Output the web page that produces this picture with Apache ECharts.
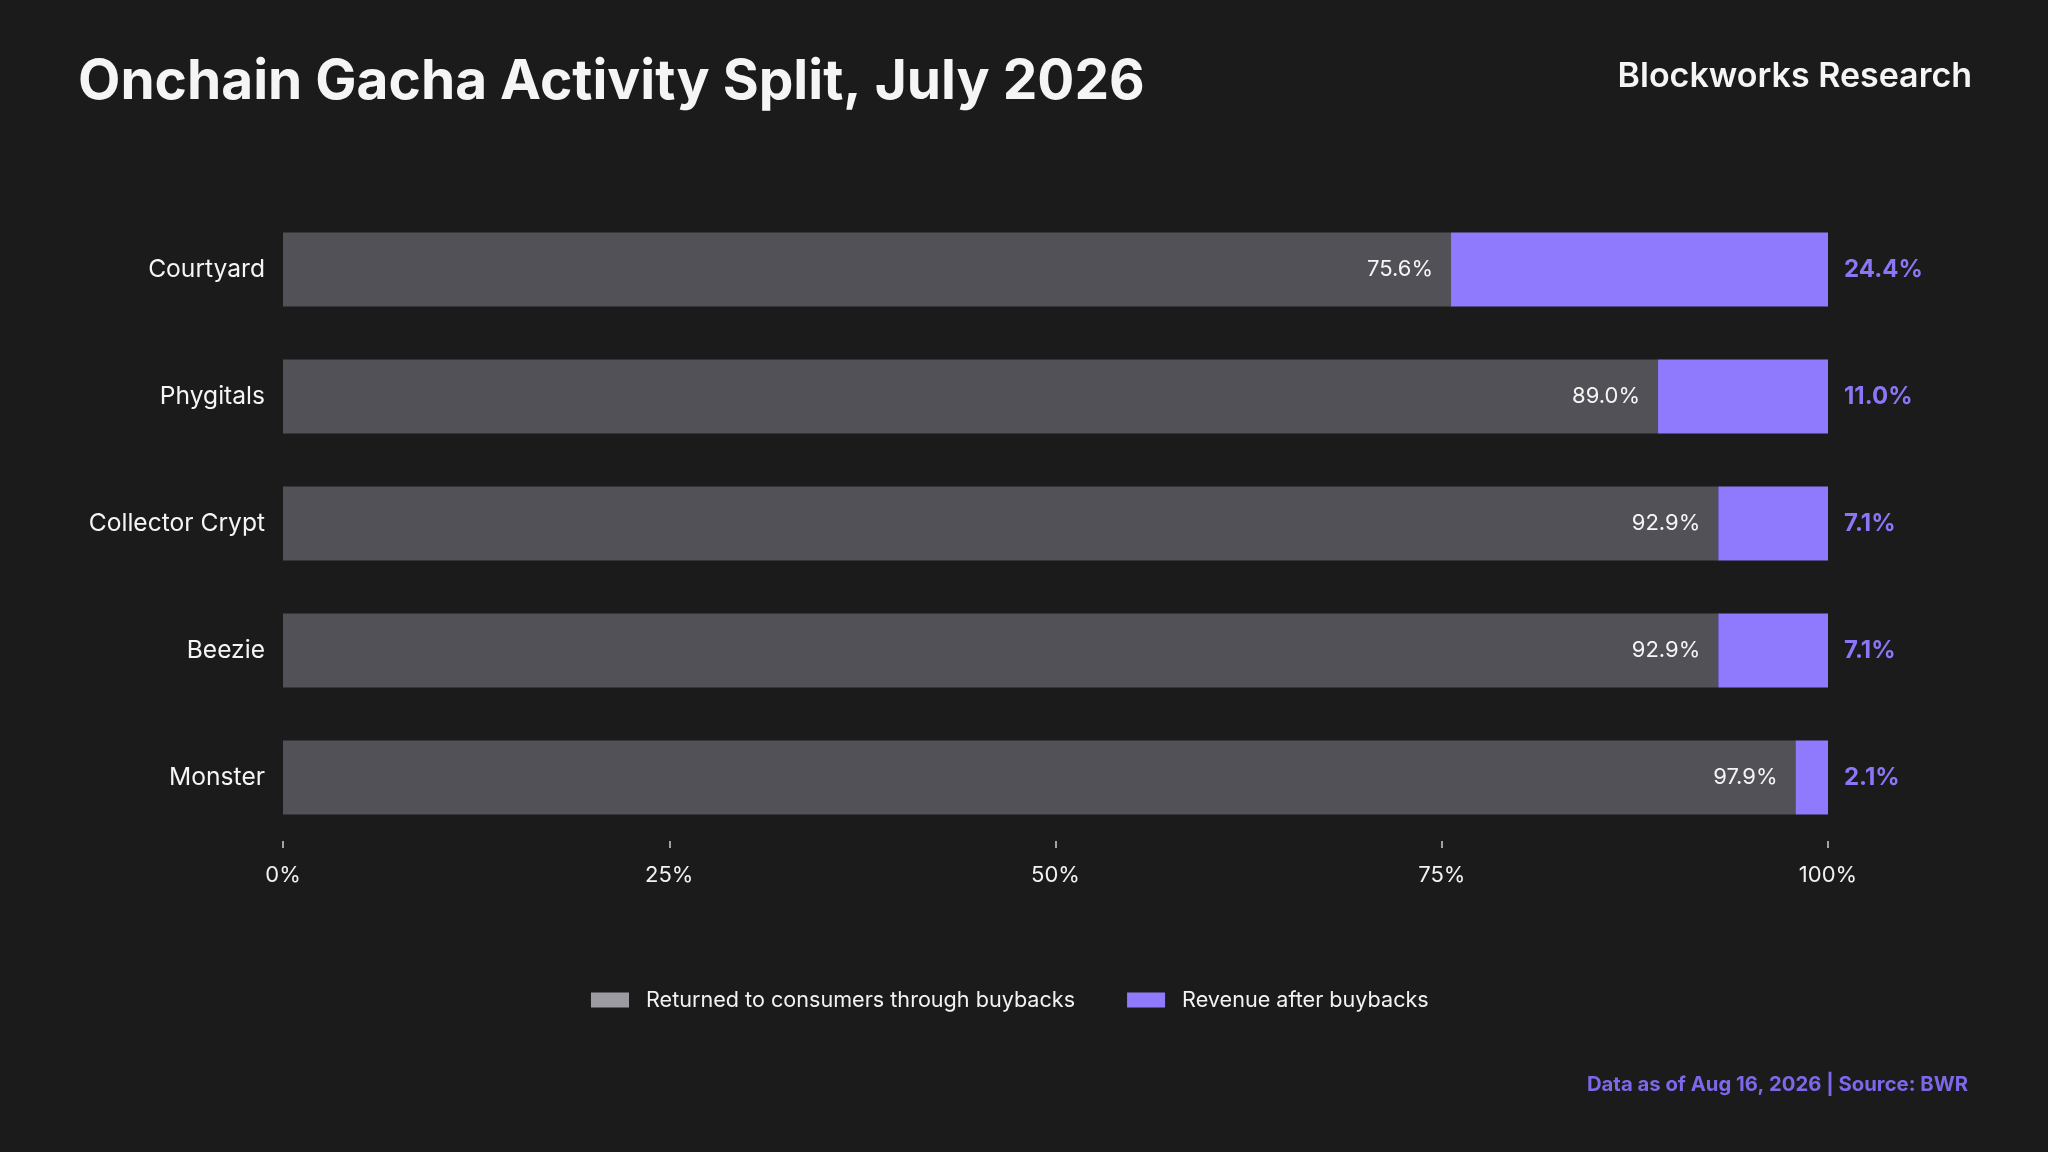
<!DOCTYPE html>
<html>
<head>
<meta charset="utf-8">
<script src="https://cdn.jsdelivr.net/npm/echarts@6/dist/echarts.min.js"></script>
<style>
html, body { margin: 0; padding: 0; background: #1b1b1b; }
#main { width: 2048px; height: 1152px; }
</style>
</head>
<body>
<div id="main"></div>
<script>
var platforms = ['Courtyard', 'Phygitals', 'Collector Crypt', 'Beezie', 'Monster'];
var returned = [75.6, 89.0, 92.9, 92.9, 97.9];
var revenue = [24.4, 11.0, 7.1, 7.1, 2.1];
var seriesNames = ['Returned to consumers through buybacks', 'Revenue after buybacks'];
var xTicks = [0, 25, 50, 75, 100];

var font = 'Inter, "Noto Sans", sans-serif';
var myChart = echarts.init(document.getElementById('main'));

var option = {
	backgroundColor: '#1b1b1b',
	textStyle: { fontFamily: font },
	animation: false,
	grid: {
		left: 283,
		right: 220,
		top: 206,
		height: 635
	},
	legend: {
		left: 586,
		top: 984,
		itemWidth: 38,
		itemHeight: 15,
		itemGap: 52,
		icon: 'rect',
		textStyle: { color: '#f2f2f2', fontSize: 21.6, fontFamily: font, padding: [0, 0, 0, 12] },
		data: [
			{ name: seriesNames[0], itemStyle: { color: '#9c9ba1' } },
			{ name: seriesNames[1], itemStyle: { color: '#8f7afe' } }
		]
	},
	xAxis: {
		type: 'value',
		min: xTicks[0],
		max: xTicks[xTicks.length - 1],
		interval: 25,
		splitLine: { show: false },
		axisLine: { show: false },
		axisTick: { show: true, length: 7, lineStyle: { color: '#d0d0d0', width: 1.5 } },
		axisLabel: {
			color: '#f2f2f2',
			fontSize: 22,
			margin: 23,
			formatter: '{value}%'
		}
	},
	yAxis: {
		type: 'category',
		inverse: true,
		data: platforms,
		axisLine: { show: false },
		axisTick: { show: false },
		axisLabel: { color: '#f5f5f5', fontSize: 24.6, margin: 18 }
	},
	series: [{
		name: seriesNames[0],
		type: 'bar',
		stack: 'total',
		barWidth: 74,
		data: returned,
		itemStyle: { color: '#525157' },
		label: {
			show: true,
			position: 'insideRight',
			distance: 18,
			color: '#f5f5f5',
			fontSize: 22,
			formatter: function (p) { return p.value.toFixed(1) + '%'; }
		}
	}, {
		name: seriesNames[1],
		type: 'bar',
		stack: 'total',
		barWidth: 74,
		data: revenue,
		itemStyle: { color: '#8f7afe' },
		label: {
			show: true,
			position: 'right',
			distance: 16,
			color: '#8c76f8',
			fontSize: 24,
			fontWeight: 'bold',
			formatter: function (p) { return p.value.toFixed(1) + '%'; }
		}
	}],
	graphic: [{
		type: 'text',
		left: 78,
		top: 55,
		style: {
			text: 'Onchain Gacha Activity Split, July 2026',
			fill: '#f5f5f5',
			font: 'bold 55px ' + font
		}
	}, {
		type: 'text',
		right: 76,
		top: 60,
		style: {
			text: 'Blockworks Research',
			fill: '#f5f5f5',
			font: '600 34px ' + font
		}
	}, {
		type: 'text',
		right: 80,
		top: 1075,
		style: {
			text: 'Data as of Aug 16, 2026 | Source: BWR',
			fill: '#7d68ea',
			font: 'bold 20.3px ' + font
		}
	}]
};

myChart.setOption(option);
</script>
</body>
</html>
